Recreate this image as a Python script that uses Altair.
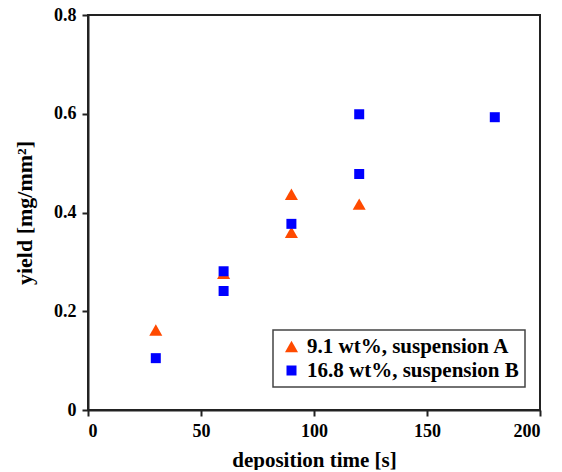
import altair as alt
import pandas as pd

series_a = "9.1 wt%, suspension A"
series_b = "16.8 wt%, suspension B"

time_a = [30, 60, 90, 90, 120]
yield_a = [0.162, 0.277, 0.437, 0.360, 0.417]
time_b = [30, 60, 60, 90, 120, 120, 180]
yield_b = [0.105, 0.281, 0.241, 0.377, 0.599, 0.478, 0.593]

df = pd.DataFrame({
    "time": time_a + time_b,
    "yield": yield_a + yield_b,
    "series": [series_a] * len(time_a) + [series_b] * len(time_b),
})

font = "Liberation Serif"
order = [series_a, series_b]
leg = alt.Legend(title=None)

chart = alt.Chart(df).mark_point(filled=True, opacity=1).encode(
    x=alt.X("time:Q", title="deposition time [s]",
            scale=alt.Scale(domain=[0, 200], nice=False),
            axis=alt.Axis(values=[0, 50, 100, 150, 200])),
    y=alt.Y("yield:Q", title="yield [mg/mm²]",
            scale=alt.Scale(domain=[0, 0.8], nice=False),
            axis=alt.Axis(values=[0, 0.2, 0.4, 0.6, 0.8],
                          labelExpr="datum.value == 0 ? '0' : format(datum.value, '.1f')")),
    color=alt.Color("series:N", legend=leg,
                    scale=alt.Scale(domain=order, range=["#ff4a00", "#0000ff"])),
    shape=alt.Shape("series:N", legend=leg,
                    scale=alt.Scale(domain=order, range=["triangle-up", "square"])),
    size=alt.Size("series:N", legend=leg,
                  scale=alt.Scale(domain=order, range=[170, 100])),
).properties(
    width=452, height=395,
    autosize=alt.AutoSizeParams(type="none"),
    padding={"left": 80, "top": 7, "right": 14, "bottom": 60},
).configure_view(
    stroke="#222", strokeWidth=2
).configure_axis(
    grid=False,
    domainColor="#222", domainWidth=2,
    tickColor="#222", tickWidth=2, tickSize=6,
    labelFont=font, labelFontSize=18, labelFontWeight="bold", labelColor="black",
    titleFont=font, titleFontWeight="bold", titleColor="black",
    labelPadding=6,
).configure_axisY(
    titlePadding=17, titleFontSize=22,
).configure_axisX(
    titlePadding=9, titleFontSize=21,
).configure_legend(
    orient="none", legendX=185, legendY=315,
    strokeColor="#444", strokeWidth=1.5,
    padding=6, rowPadding=2,
    labelFont=font, labelFontSize=21, labelFontWeight="bold", labelColor="black",
    labelLimit=400, symbolOffset=2, labelOffset=5,
)

chart.save("out.html", embed_options={"renderer": "svg", "actions": False})
